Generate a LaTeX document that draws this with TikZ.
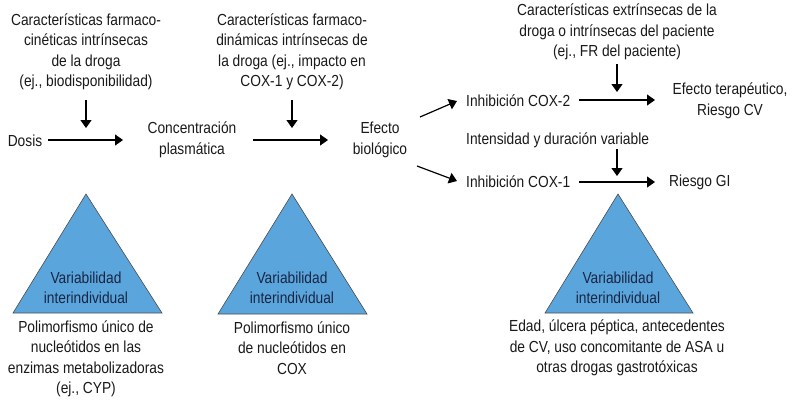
\documentclass[tikz,border=0pt]{standalone}
\usepackage{fontspec}
\setmainfont[FakeStretch=0.86]{Liberation Sans}
\usetikzlibrary{arrows.meta}
\definecolor{triblue}{RGB}{90,165,220}
\definecolor{navytxt}{RGB}{25,38,68}
\definecolor{maintxt}{RGB}{25,25,25}
\begin{document}
\begin{tikzpicture}[x=1pt,y=-1pt,
  txt/.style={align=center, inner sep=0pt, font=\fontsize{16}{20.5}\selectfont, text=maintxt},
  arr/.style={-{Triangle[length=8pt,width=11pt]}, line width=1.2pt},
  tri/.style={fill=triblue, draw=black!70, line width=0.6pt},
  tritxt/.style={txt, text=navytxt}]
\useasboundingbox (0,0) rectangle (794,405);

% triangles
\draw[tri] (86,194) -- (13,313) -- (162,313) -- cycle;
\draw[tri] (292,194) -- (218,314) -- (367,314) -- cycle;
\draw[tri] (618,194) -- (545,313) -- (693,313) -- cycle;
\node[tritxt] (v1) at (86,288) {Variabilidad\\interindividual};
\node[tritxt] (v2) at (292,288) {Variabilidad\\interindividual};
\node[tritxt] (v3) at (618,288) {Variabilidad\\interindividual};

% texts
\node[txt] (pk) at (86,52) {Características farmaco-\\cinéticas intrínsecas\\de la droga\\(ej., biodisponibilidad)};
\node[txt] (pd) at (292,52) {Características farmaco-\\dinámicas intrínsecas de\\la droga (ej., impacto en\\COX-1 y COX-2)};
\node[txt] (ext) at (617,32) {Características extrínsecas de la\\droga o intrínsecas del paciente\\(ej., FR del paciente)};
\node[txt] (dosis) at (25,141) {Dosis};
\node[txt] (conc) at (192,140) {Concentración\\plasmática};
\node[txt] (efb) at (380,140) {Efecto\\biológico};
\node[txt, anchor=west] (c2) at (466,101) {Inhibición COX-2};
\node[txt, anchor=west] (iv) at (466,140) {Intensidad y duración variable};
\node[txt, anchor=west] (c1) at (466,182) {Inhibición COX-1};
\node[txt] (efter) at (730,101) {Efecto terapéutico,\\Riesgo CV};
\node[txt, anchor=west] (gi) at (669,182) {Riesgo GI};
\node[txt] (b1) at (86,359) {Polimorfismo único de\\nucleótidos en las\\enzimas metabolizadoras\\(ej., CYP)};
\node[txt] (b2) at (292,348) {Polimorfismo único\\de nucleótidos en\\COX};
\node[txt] (b3) at (617,348) {Edad, úlcera péptica, antecedentes\\de CV, uso concomitante de ASA u\\otras drogas gastrotóxicas};

% arrow end points
\coordinate (d0) at (48,140);   \coordinate (d1) at (123,140);
\coordinate (e0) at (253,140);  \coordinate (e1) at (328,140);
\coordinate (p0) at (86,100);   \coordinate (p1) at (86,128);
\coordinate (q0) at (292,100);  \coordinate (q1) at (292,128);
\coordinate (u0) at (420,117);  \coordinate (u1) at (457,101);
\coordinate (l0) at (417,166);  \coordinate (l1) at (457,181);
\coordinate (h0) at (579,100);  \coordinate (h1) at (655,100);
\coordinate (g0) at (579,182);  \coordinate (g1) at (655,182);
\coordinate (x0) at (617,64);   \coordinate (x1) at (617,92);
\coordinate (y0) at (617,149);  \coordinate (y1) at (617,176);

\draw[arr] (d0) -- (d1);
\draw[arr] (e0) -- (e1);
\draw[arr] (p0) -- (p1);
\draw[arr] (q0) -- (q1);
\draw[arr] (u0) -- (u1);
\draw[arr] (l0) -- (l1);
\draw[arr] (h0) -- (h1);
\draw[arr] (g0) -- (g1);
\draw[arr] (x0) -- (x1);
\draw[arr] (y0) -- (y1);
\end{tikzpicture}
\end{document}
